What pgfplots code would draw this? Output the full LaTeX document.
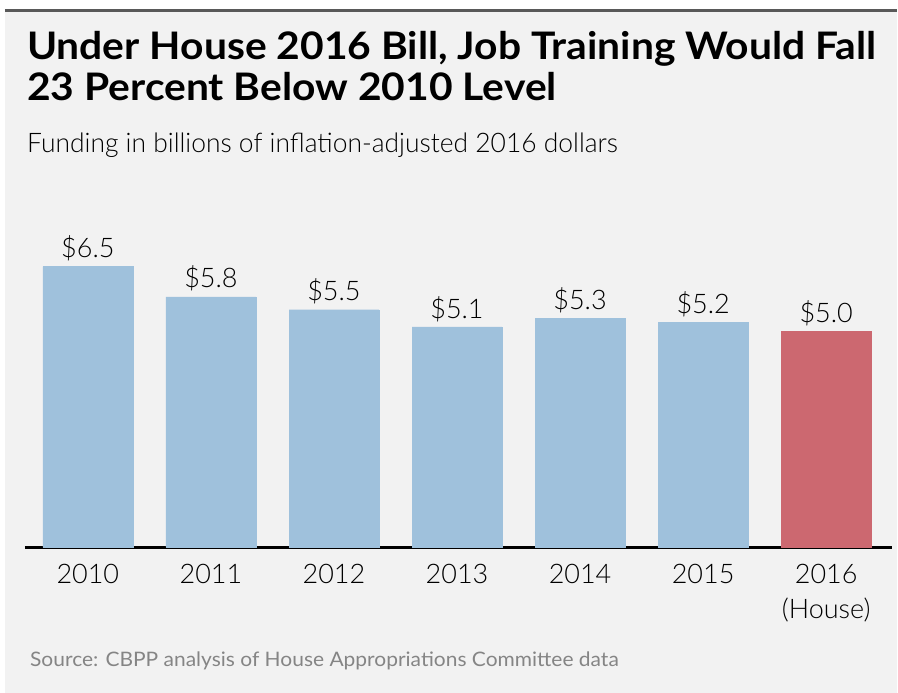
\documentclass[border=0pt]{standalone}
\usepackage{fontspec}
\setmainfont{Lato}
\newfontfamily\lightfont{Lato Light}
\usepackage{pgfplots}
\pgfplotsset{compat=1.18}
\definecolor{bg}{HTML}{F2F2F2}
\definecolor{barblue}{HTML}{9FC1DC}
\definecolor{barred}{HTML}{CC6870}
\definecolor{srcgray}{HTML}{858585}
\begin{document}
\begin{tikzpicture}[x=1pt,y=1pt]
\fill[white] (0,0) rectangle (898,-694);
\fill[bg] (5,-11) rectangle (898,-694);
\draw[color=black!65,line width=3pt] (5,-10.5) -- (898,-10.5);
\node[anchor=base west,inner sep=0,font=\fontsize{38}{40}\selectfont\bfseries] at (27,-60) {\scalebox{1.075}[1]{Under House 2016 Bill, Job Training Would Fall}};
\node[anchor=base west,inner sep=0,font=\fontsize{38}{40}\selectfont\bfseries] at (27,-101) {\scalebox{1.075}[1]{23 Percent Below 2010 Level}};
\node[anchor=base west,inner sep=0,font=\fontsize{27}{30}\selectfont\lightfont] at (27,-153) {\scalebox{0.98}[1]{Funding in billions of inflation-adjusted 2016 dollars}};
\node[anchor=base west,inner sep=0,text=srcgray,font=\fontsize{20}{22}\selectfont] at (30,-668) {\scalebox{1.05}[1]{Source: CBPP analysis of House Appropriations Committee data}};
\begin{axis}[
  at={(25pt,-548pt)}, anchor=south west,
  scale only axis, width=868pt, height=281pt,
  xmin=-0.511, xmax=6.531, ymin=0, ymax=6.5,
  clip=false,
  axis x line*=bottom, axis y line=none,
  x axis line style={line width=3pt,-},
  xtick={0,...,6}, major tick length=0pt,
  xticklabels={2010,2011,2012,2013,2014,2015,{2016\\(House)}},
  xticklabel style={align=center,font=\fontsize{27}{35}\selectfont\lightfont,yshift=-14pt},
  ytick=\empty,
  ybar, bar width=90pt, bar shift=0pt,
  /pgf/number format/assume math mode=true,
  nodes near coords={\$\pgfmathprintnumber[fixed,fixed zerofill,precision=1]{\pgfplotspointmeta}},
  every node near coord/.append style={font=\fontsize{27}{30}\selectfont\lightfont,text=black,yshift=2pt},
]
\addplot[fill=barblue,draw=barblue] coordinates {(0,6.5) (1,5.8) (2,5.5) (3,5.1) (4,5.3) (5,5.2)};
\addplot[fill=barred,draw=barred] coordinates {(6,5.0)};
\end{axis}
\end{tikzpicture}
\end{document}
